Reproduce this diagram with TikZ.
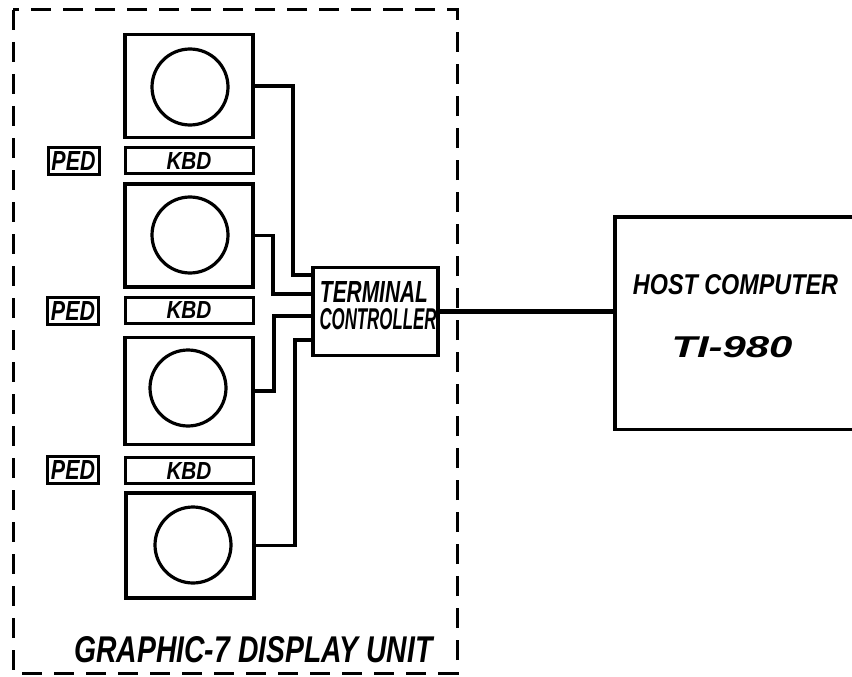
\documentclass[tikz,border=0pt]{standalone}
\usepackage{fontspec}
\setmainfont{Liberation Sans}
\usepackage{graphicx}
\begin{document}
\begin{tikzpicture}[x=1pt,y=-1pt,
  box/.style={draw,line width=3.4pt,inner sep=0pt},
  mon/.style={box,minimum width=128pt,minimum height=103pt},
  scr/.style={draw,line width=3.2pt,circle,minimum size=76pt,inner sep=0pt},
  kbd/.style={box,line width=3pt,minimum width=128pt,minimum height=26pt},
  ped/.style={box,line width=3pt,minimum width=51pt,minimum height=27pt},
  wire/.style={line width=3.4pt},
  txt/.style={inner sep=0pt,font=\bfseries\itshape}]
\useasboundingbox (0,0) rectangle (852,677);
\draw[line width=3pt, dash pattern=on 20pt off 12pt] (13,10) rectangle (457,673);
% monitors, keyboards, pedals
\node[mon] (m1) at (189,86) {};
\node[scr] (c1) at (190,87) {};
\node[kbd,txt] (k1) at (189,160.5) {\resizebox{45pt}{17pt}{KBD}};
\node[ped,txt] (p1) at (73.5,160.5) {\resizebox{44pt}{19pt}{PED}};
\node[mon] (m2) at (189,235.5) {};
\node[scr] (c2) at (190,235) {};
\node[kbd,txt] (k2) at (189,310) {\resizebox{45pt}{17pt}{KBD}};
\node[ped,txt] (p2) at (73,310.5) {\resizebox{44pt}{19pt}{PED}};
\node[mon,minimum height=107pt] (m3) at (189,391) {};
\node[scr] (c3) at (188,388) {};
\node[kbd,txt] (k3) at (189,470.5) {\resizebox{45pt}{17pt}{KBD}};
\node[ped,txt] (p3) at (73,470) {\resizebox{44pt}{19pt}{PED}};
\node[mon,minimum height=105pt] (m4) at (190,545.5) {};
\node[scr] (c4) at (193,545) {};
% terminal controller
\node[box,minimum width=125pt,minimum height=88pt] (tc) at (375.5,311.5) {};
\node[txt] (t1) at (374,291.5) {\resizebox{108pt}{21pt}{TERMINAL}};
\node[txt] (t2) at (378,319) {\resizebox{117pt}{21pt}{CONTROLLER}};
% host computer
\node[inner sep=0pt,minimum width=237pt,minimum height=212pt] (host) at (733.5,323) {};
\draw[line width=3.4pt] (host.north east) -- (host.north west) -- (host.south west) -- (host.south east);
\node[txt] (h1) at (735.5,285) {\resizebox{205pt}{20pt}{HOST COMPUTER}};
\node[txt] (h2) at (732,347) {\resizebox{121pt}{21pt}{TI-980}};
% wires
\draw[wire] (m1.east) -| (293,275) -- (tc.west |- 0,275);
\draw[wire] (m2.east) -| (273,294) -- (tc.west |- 0,294);
\draw[wire] (m3.east) -| (274,316) -- (tc.west |- 0,316);
\draw[wire] (m4.east) -| (295,340) -- (tc.west |- 0,340);
\draw[line width=5pt] (tc.east) -- (host.west |- tc.east);
% title
\node[txt] (title) at (253.5,650) {\resizebox{358pt}{26pt}{GRAPHIC-7 DISPLAY UNIT}};
\end{tikzpicture}
\end{document}
